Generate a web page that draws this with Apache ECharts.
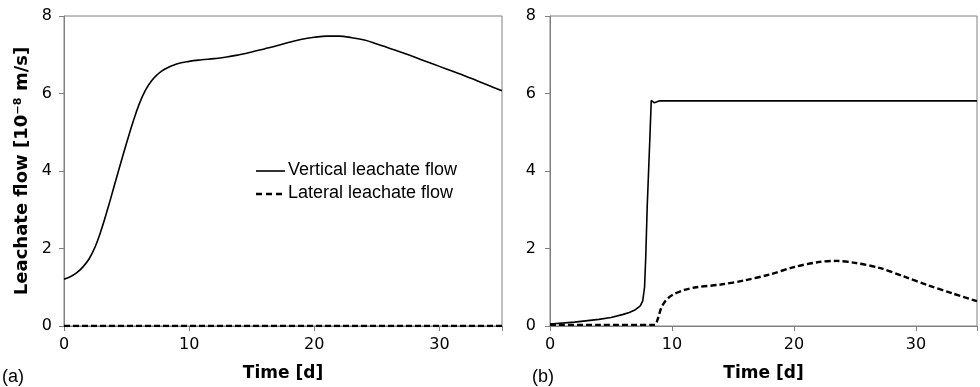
<!DOCTYPE html>
<html>
<head>
<meta charset="utf-8">
<script src="https://cdn.jsdelivr.net/npm/echarts@6/dist/echarts.min.js"></script>
<style>html,body{margin:0;padding:0;background:#fff;}#c{width:980px;height:387px;}</style>
</head>
<body>
<div id="c"></div>
<script>
// Panel (a)
const tVertA = [0,0.5,1,1.5,2,2.5,3,3.5,4,4.5,5,5.5,6,6.5,7,7.5,8,9,10,11,12,13,14,15,16,17,18,19,20,21,22,23,24,25,26,27,28,29,30,31,32,33,34,35];
const vertA  = [1.21,1.27,1.37,1.52,1.73,2.05,2.5,3.03,3.6,4.17,4.72,5.25,5.72,6.08,6.33,6.5,6.62,6.76,6.83,6.87,6.9,6.94,7.0,7.07,7.15,7.23,7.32,7.4,7.45,7.48,7.48,7.44,7.38,7.28,7.17,7.06,6.94,6.82,6.7,6.58,6.46,6.33,6.2,6.07];
const tLatA = [0,35];
const latA  = [0,0];
// Panel (b)
const tVertB = [0,2,4,5,6,6.5,7,7.4,7.6,7.75,7.85,7.97,8.18,8.3,8.4,8.55,8.7,9,35];
const vertB  = [0.05,0.1,0.17,0.22,0.3,0.35,0.42,0.52,0.65,1.0,1.8,3.1,4.8,5.82,5.78,5.76,5.8,5.81,5.81];
const tLatB = [0,4,8.6,8.8,9.1,9.4,9.8,10.2,11,12,14,16,18,20,22,23.5,25,27,29,31,33,35];
const latB  = [0.03,0.03,0.03,0.15,0.45,0.62,0.75,0.83,0.93,1.0,1.07,1.18,1.33,1.52,1.65,1.68,1.63,1.5,1.28,1.05,0.84,0.64];
const xTicks = [0,10,20,30];
const yTicks = [0,2,4,6,8];
const names = ['Vertical leachate flow','Lateral leachate flow'];

const pairs = (xs, ys) => xs.map((x,i)=>[x, ys[i]]);
const axisGray = '#808080';
const tickFont = {fontFamily:'DejaVu Sans', fontSize:16, color:'#000'};
function xAx(gi){
  return {type:'value', gridIndex:gi, min:0, max:35, interval:10,
    axisLine:{show:true, onZero:false, lineStyle:{color:axisGray, width:1}},
    axisTick:{show:true, inside:false, length:5, lineStyle:{color:axisGray}},
    axisLabel:Object.assign({margin:11, formatter:v=>xTicks.includes(v)?String(v):''}, tickFont),
    splitLine:{show:false},
    name:'Time [d]', nameLocation:'middle', nameGap:39,
    nameTextStyle:{fontFamily:'DejaVu Sans', fontWeight:'bold', fontSize:17, color:'#000'}};
}
function yAx(gi, margin, withName){
  const o = {type:'value', gridIndex:gi, min:0, max:8, interval:2,
    axisLine:{show:true, lineStyle:{color:axisGray, width:1}},
    axisTick:{show:true, inside:false, length:5, lineStyle:{color:axisGray}},
    axisLabel:Object.assign({margin:margin, formatter:v=>yTicks.includes(v)?String(v):''}, tickFont),
    splitLine:{show:false}};
  if(withName){
    o.name = 'Leachate flow [10⁻⁸ m/s]';
    o.nameLocation = 'middle';
    o.nameGap = 33;
    o.nameTextStyle = {fontFamily:'DejaVu Sans', fontWeight:'bold', fontSize:18, color:'#000'};
  }
  return o;
}
const solid = {color:'#000', width:1.6, type:'solid'};
const dashed = {color:'#000', width:2.4, type:[6,3]};

const chart = echarts.init(document.getElementById('c'), null, {renderer:'canvas'});
chart.setOption({
  animation:false,
  backgroundColor:'#fff',
  grid:[
    {left:64, right:478, top:16, bottom:60, show:true, borderColor:axisGray, borderWidth:1, containLabel:false},
    {left:550, right:-9, top:16, bottom:60, show:true, borderColor:axisGray, borderWidth:1, containLabel:false}
  ],
  xAxis:[xAx(0), xAx(1)],
  yAxis:[yAx(0,12,true), yAx(1,14,false)],
  series:[
    {name:names[0], type:'line', xAxisIndex:0, yAxisIndex:0, data:pairs(tVertA, vertA), smooth:0.4, symbol:'none', lineStyle:solid, itemStyle:{color:'#000'}},
    {name:names[1], type:'line', xAxisIndex:0, yAxisIndex:0, data:pairs(tLatA, latA), symbol:'none', lineStyle:dashed, itemStyle:{color:'#000'}},
    {name:names[0], type:'line', xAxisIndex:1, yAxisIndex:1, data:pairs(tVertB, vertB), symbol:'none', lineStyle:solid, itemStyle:{color:'#000'}},
    {name:names[1], type:'line', xAxisIndex:1, yAxisIndex:1, data:pairs(tLatB, latB), smooth:0.3, symbol:'none', lineStyle:dashed, itemStyle:{color:'#000'}}
  ],
  graphic:[
    {type:'line', shape:{x1:256, y1:171, x2:285, y2:171}, style:{stroke:'#000', lineWidth:1.6}},
    {type:'line', shape:{x1:256, y1:194, x2:284, y2:194}, style:{stroke:'#000', lineWidth:2.4, lineDash:[6,4]}},
    {type:'text', left:288, top:161, style:{text:names[0], font:'18px "Liberation Sans"', fill:'#000'}},
    {type:'text', left:288, top:184, style:{text:names[1], font:'18px "Liberation Sans"', fill:'#000'}},
    {type:'text', left:2, top:368, style:{text:'(a)', font:'18px "Liberation Sans"', fill:'#000'}},
    {type:'text', left:532, top:368, style:{text:'(b)', font:'18px "Liberation Sans"', fill:'#000'}}
  ]
});
</script>
</body>
</html>
